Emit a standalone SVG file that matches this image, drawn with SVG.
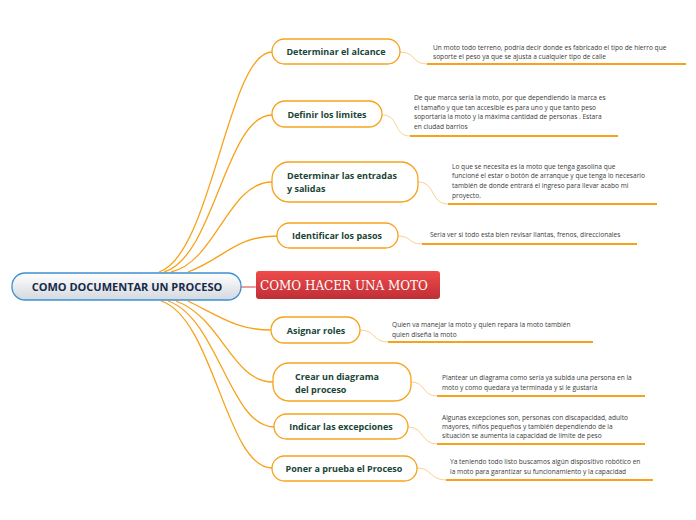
<svg xmlns="http://www.w3.org/2000/svg" width="696" height="520" viewBox="0 0 696 520">
<defs>
<linearGradient id="gc" x1="0" y1="0" x2="0" y2="1"><stop offset="0" stop-color="#ffffff"/><stop offset="1" stop-color="#d3d9df"/></linearGradient>
<linearGradient id="gr" x1="0" y1="0" x2="0" y2="1"><stop offset="0" stop-color="#ef4b4b"/><stop offset="1" stop-color="#bf2f36"/></linearGradient>
</defs>
<style>
.c{fill:none;stroke:#f7a21b;stroke-width:1.3}
.s{fill:none;stroke:#fbd08f;stroke-width:1}
.u{fill:none;stroke:#f7a21b;stroke-width:1.8}
.n{fill:#fff;stroke:#f7a21b;stroke-width:1.3}
.nt{font-family:"Open Sans","Noto Sans",sans-serif;font-weight:bold;font-size:9px;fill:#1a4536}
.t{font-family:"Open Sans","Noto Sans",sans-serif;font-size:6.6px;fill:#3a3a3a}
</style>
<rect width="696" height="520" fill="#fff"/>
<g id="connectors">
<path class="c" d="M159,272 C212,255 228,52 272,52"/>
<path class="c" d="M164,272 C214,258 226,115 272,115"/>
<path class="c" d="M171,272 C216,262 228,182 272,182"/>
<path class="c" d="M188,272 C225,258 235,236 277,236"/>
<path class="c" d="M188,301 C222,318 238,330 271,330"/>
<path class="c" d="M176,301 C222,318 232,382 273,382"/>
<path class="c" d="M168,301 C218,318 230,427 274,427"/>
<path class="c" d="M161,301 C214,318 226,468 272,468"/>
<path d="M241,287 H256" stroke="#e65a5a" stroke-width="1.2"/>
<path class="s" d="M400,52 C416,52 412,64 427,64"/>
<path class="s" d="M382,115 C400,115 393,136 410,136"/>
<path class="s" d="M418,182 C436,182 430,204 448,204"/>
<path class="s" d="M398,236 C412,236 408,244 422,244"/>
<path class="s" d="M360,330 C376,330 372,342 388,342"/>
<path class="s" d="M411,382 C426,382 422,396 437,396"/>
<path class="s" d="M408,427 C424,427 421,444 437,444"/>
<path class="s" d="M417,468 C432,468 430,480 446,480"/>
<path class="u" d="M427,64 H686"/>
<path class="u" d="M410,136 H618"/>
<path class="u" d="M448,204 H657"/>
<path class="u" d="M422,244 H637"/>
<path class="u" d="M388,342 H593"/>
<path class="u" d="M437,396 H645"/>
<path class="u" d="M437,444 H645"/>
<path class="u" d="M446,480 H653"/>
</g>
<g id="central">
<rect x="12" y="273" width="229" height="27" rx="13" fill="url(#gc)" stroke="#3d8fd1" stroke-width="1.3"/>
<text x="127" y="291" text-anchor="middle" font-family="'Open Sans','Noto Sans',sans-serif" font-weight="bold" font-size="11" fill="#172a4a">COMO DOCUMENTAR UN PROCESO</text>
</g>
<g id="moto">
<rect x="256" y="271" width="184" height="28" rx="3" fill="url(#gr)"/>
<text x="344" y="289.5" text-anchor="middle" font-family="'DejaVu Serif','Liberation Serif',serif" font-size="12" fill="#fff">COMO HACER UNA MOTO</text>
</g>
<g id="n1">
<rect class="n" x="272" y="39" width="128" height="25" rx="12.5"/>
<text class="nt" x="336" y="55" text-anchor="middle">Determinar el alcance</text>
<text class="t" x="433" y="50">Un moto todo terreno, podría decir donde es fabricado el tipo de hierro que</text>
<text class="t" x="433" y="59">soporte el peso ya que se ajusta a cualquier tipo de calle</text>
</g>
<g id="n2">
<rect class="n" x="272" y="101" width="110" height="26" rx="13"/>
<text class="nt" x="327" y="118" text-anchor="middle">Definir los limites</text>
<text class="t" x="414" y="100">De que marca sería la moto, por que dependiendo la marca es</text>
<text class="t" x="414" y="110">el tamaño y que tan accesible es para uno y que tanto peso</text>
<text class="t" x="414" y="119">soportaría la moto  y la máxima cantidad de personas . Estara</text>
<text class="t" x="414" y="129">en ciudad barrios</text>
</g>
<g id="n3">
<rect class="n" x="272" y="162" width="146" height="40" rx="17"/>
<text class="nt" x="287" y="179">Determinar las entradas</text>
<text class="nt" x="287" y="192">y salidas</text>
<text class="t" x="452" y="169">Lo que se necesita  es la moto que tenga gasolina  que</text>
<text class="t" x="452" y="178">funcioné el estar o botón de arranque y que tenga lo necesario</text>
<text class="t" x="452" y="188">también de donde entrará el ingreso para llevar acabo mi</text>
<text class="t" x="452" y="198">proyecto.</text>
</g>
<g id="n4">
<rect class="n" x="277" y="223" width="121" height="25" rx="12.5"/>
<text class="nt" x="337" y="239" text-anchor="middle">Identificar los pasos</text>
<text class="t" x="430" y="237">Seria ver si todo esta bien revisar llantas, frenos, direccionales</text>
</g>
<g id="n5">
<rect class="n" x="271" y="317" width="89" height="26" rx="13"/>
<text class="nt" x="316" y="334" text-anchor="middle">Asignar roles</text>
<text class="t" x="392" y="327">Quien va  manejar la moto y quien repara la moto también</text>
<text class="t" x="392" y="337">quien diseña la moto</text>
</g>
<g id="n6">
<rect class="n" x="273" y="363" width="138" height="38" rx="16"/>
<text class="nt" x="295" y="380">Crear un diagrama</text>
<text class="nt" x="295" y="393">del proceso</text>
<text class="t" x="442" y="380">Plantear un diagrama como sería ya subida una persona en la</text>
<text class="t" x="442" y="390">moto y como quedara ya terminada y si le gustaría</text>
</g>
<g id="n7">
<rect class="n" x="274" y="414" width="134" height="25" rx="12.5"/>
<text class="nt" x="341" y="430" text-anchor="middle">Indicar las excepciones</text>
<text class="t" x="442" y="420">Algunas excepciones son, personas con discapacidad, adulto</text>
<text class="t" x="442" y="429">mayores, niños pequeños y también dependiendo de la</text>
<text class="t" x="442" y="438">situación se aumenta la capacidad de limite de peso</text>
</g>
<g id="n8">
<rect class="n" x="272" y="456" width="145" height="25" rx="12.5"/>
<text class="nt" x="344" y="472" text-anchor="middle">Poner a prueba el Proceso</text>
<text class="t" x="450" y="464">Ya teniendo todo listo buscamos algún dispositivo robótico en</text>
<text class="t" x="450" y="474">la moto para garantizar su funcionamiento y la capacidad</text>
</g>
</svg>
